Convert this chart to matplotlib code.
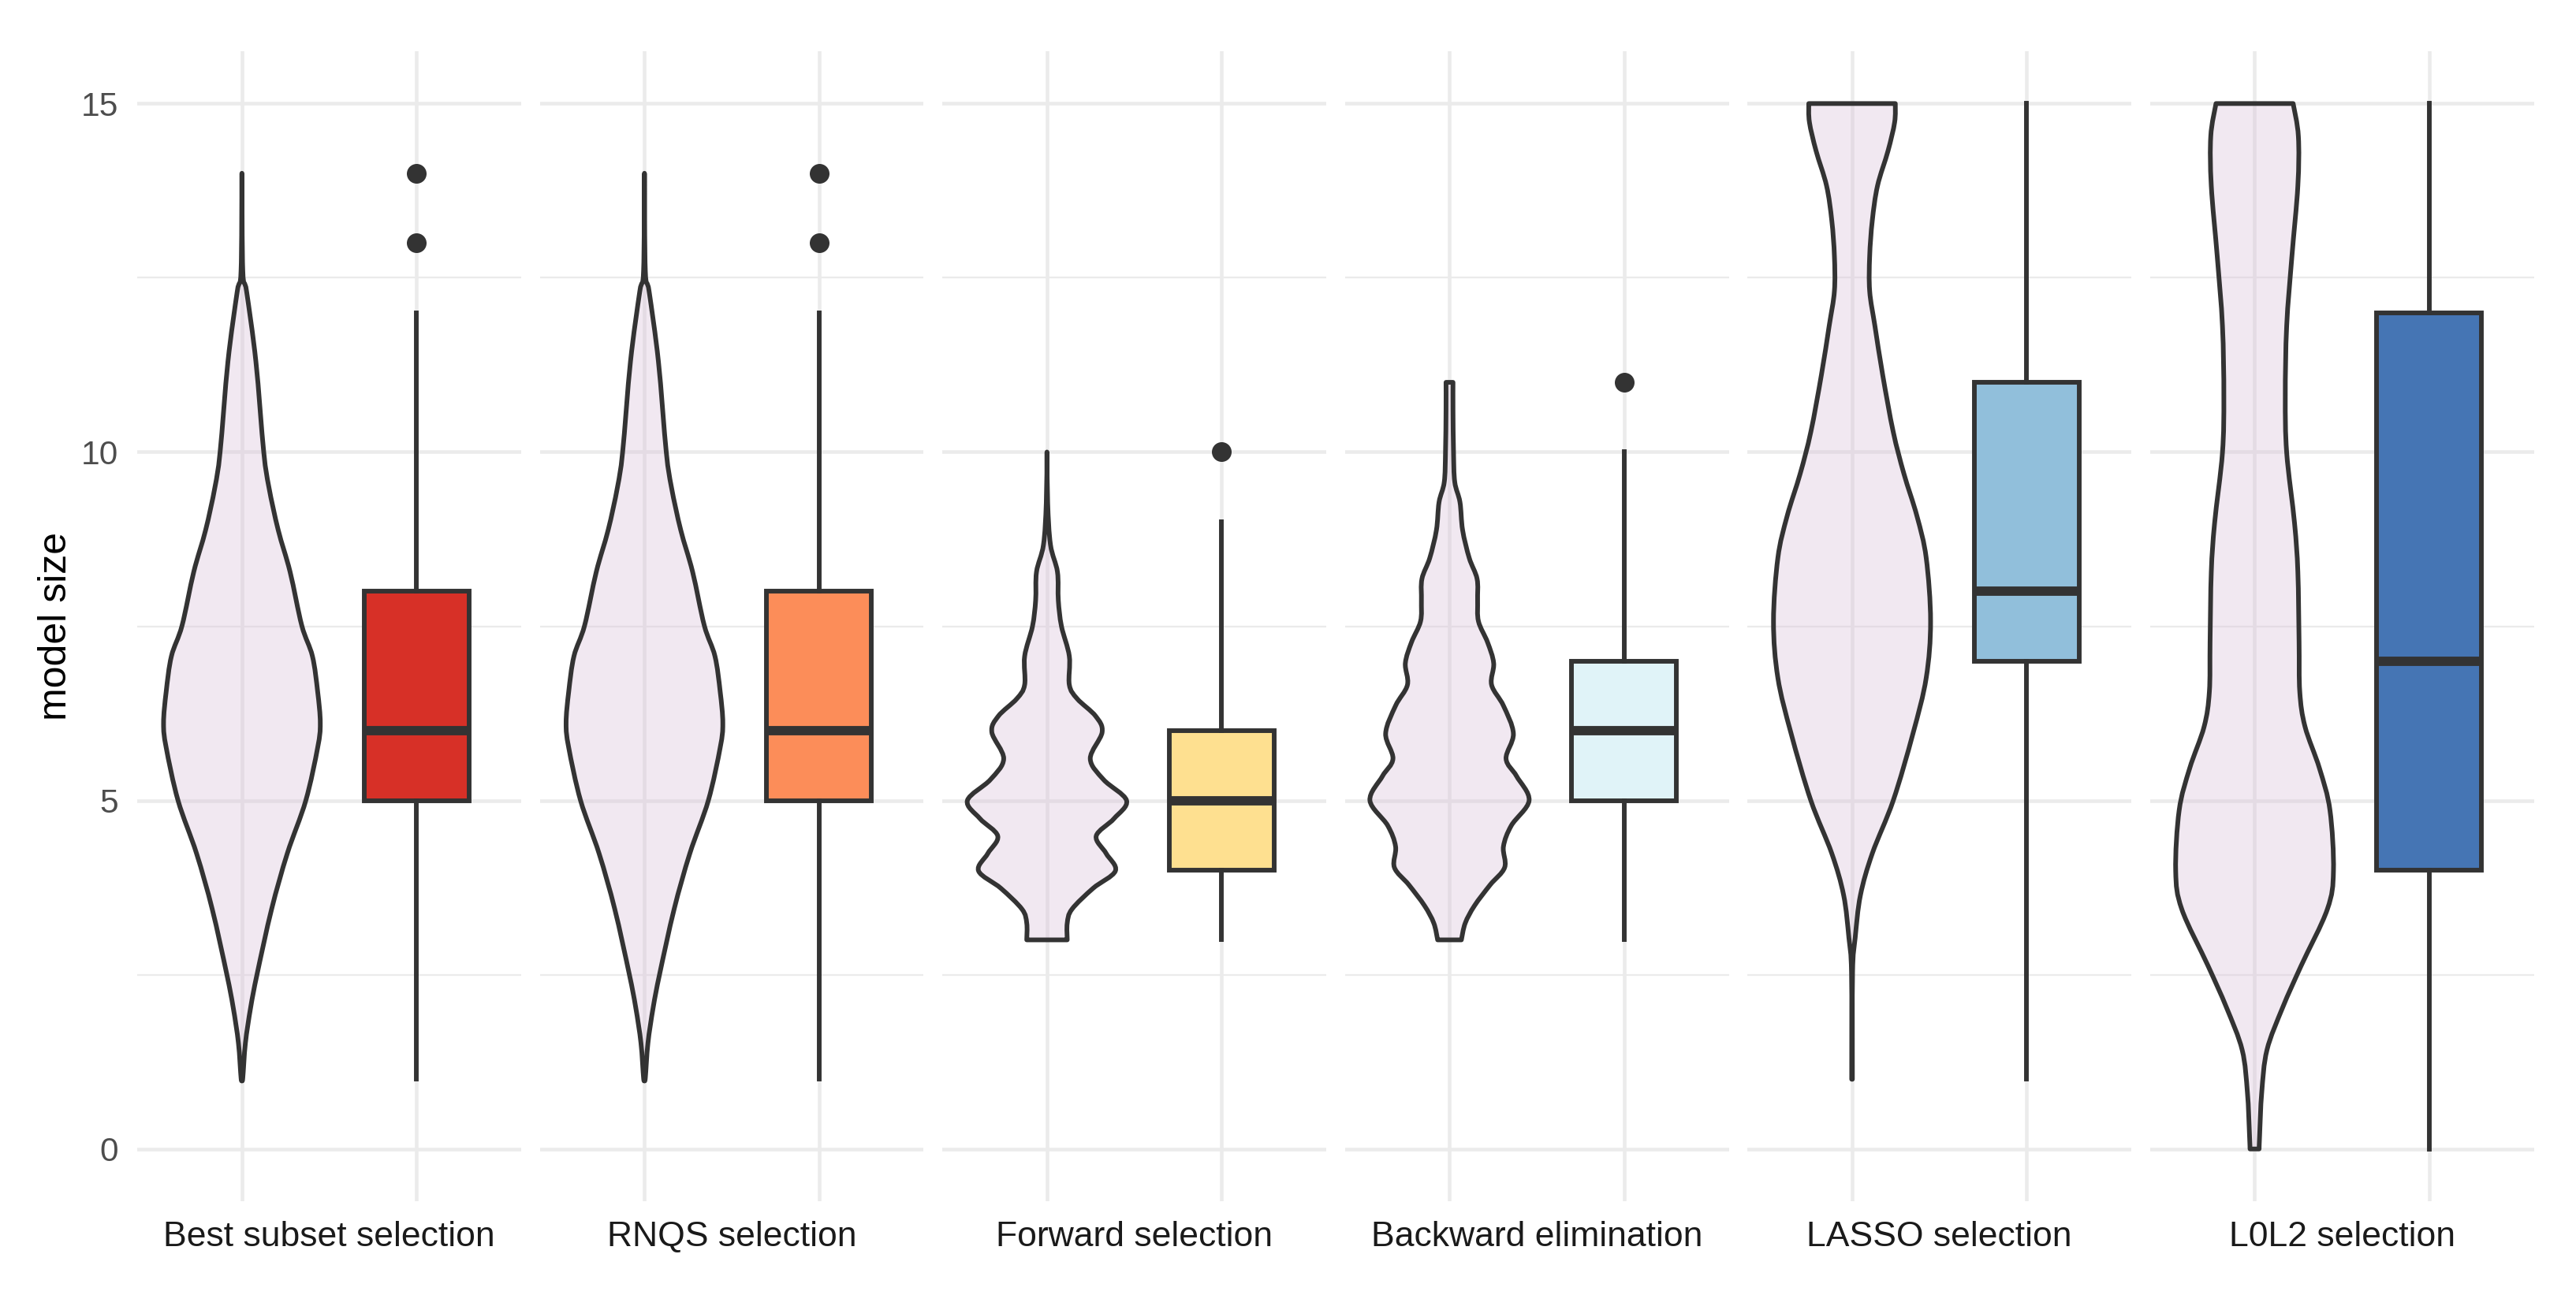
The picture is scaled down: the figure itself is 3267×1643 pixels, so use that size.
import numpy as np
import matplotlib
matplotlib.use("Agg")
import matplotlib.pyplot as plt
from matplotlib.path import Path
from matplotlib.patches import PathPatch
from matplotlib.colors import to_rgba

plt.rcParams['font.family'] = ['Liberation Sans', 'DejaVu Sans']

# panel labels and box colours
methods = ["Best subset selection", "RNQS selection", "Forward selection",
           "Backward elimination", "LASSO selection", "L0L2 selection"]
box_colors = ["#D73027", "#FC8D59", "#FEE090", "#E0F3F8", "#91BFDB", "#4575B4"]

# boxplot statistics per method
whis_lo = [1, 1, 3, 3, 1, 0]
q1 = [5, 5, 4, 5, 7, 4]
medians = [6, 6, 5, 6, 8, 7]
q3 = [8, 8, 6, 7, 11, 12]
whis_hi = [12, 12, 9, 10, 15, 15]
outliers = [[13, 14], [13, 14], [10], [11], [], []]

# violin outlines: model size (y) and half-width in x units
best_y = [1.0, 1.02, 1.52, 2.03, 2.51, 3.44, 4.24, 5.0, 5.76, 6.11, 6.56, 7.07,
          7.51, 8.28, 8.88, 9.49, 10.0, 11.3, 12.3, 12.6, 14.0]
best_w = [0.0, 0.005, 0.02, 0.05, 0.087, 0.17, 0.26, 0.366, 0.434, 0.449, 0.434, 0.404,
          0.343, 0.276, 0.208, 0.155, 0.125, 0.08, 0.027, 0.005, 0.0]

rnqs_y = [1.0, 1.02, 1.52, 2.03, 2.51, 3.44, 4.24, 5.0, 5.76, 6.11, 6.56, 7.07,
          7.51, 8.28, 8.88, 9.49, 10.0, 11.3, 12.3, 12.6, 14.0]
rnqs_w = [0.0, 0.005, 0.02, 0.05, 0.087, 0.17, 0.26, 0.366, 0.434, 0.449, 0.434, 0.404,
          0.343, 0.276, 0.208, 0.155, 0.125, 0.08, 0.027, 0.005, 0.0]

fwd_y = [3.0, 3.24, 3.44, 3.74, 3.99, 4.24, 4.49, 4.74, 5.0, 5.3, 5.6, 5.98, 6.21,
         6.46, 6.66, 7.07, 7.5, 7.87, 8.28, 8.67, 9.27, 10.0]
fwd_w = [0.116, 0.116, 0.143, 0.264, 0.392, 0.339, 0.282, 0.384, 0.456, 0.324, 0.248,
         0.316, 0.279, 0.173, 0.128, 0.128, 0.083, 0.065, 0.06, 0.02, 0.004, 0.0]

bwd_y = [3.0, 3.24, 3.49, 3.79, 4.04, 4.34, 4.64, 5.0, 5.35, 5.6, 5.96, 6.36, 6.66,
         6.97, 7.27, 7.57, 7.87, 8.18, 8.48, 8.88, 9.28, 9.57, 10.0, 10.6, 11.0]
bwd_w = [0.068, 0.09, 0.143, 0.233, 0.316, 0.309, 0.354, 0.456, 0.384, 0.324, 0.366,
         0.309, 0.241, 0.253, 0.218, 0.166, 0.161, 0.158, 0.113, 0.075, 0.06, 0.03,
         0.023, 0.02, 0.02]

lasso_y = [1.0, 2.53, 3.03, 3.64, 4.24, 5.0, 5.96, 6.76, 7.57, 8.48, 9.08, 9.69,
           10.29, 11.1, 11.81, 12.31, 12.81, 13.32, 13.82, 14.32, 14.73, 15.0]
lasso_w = [0.002, 0.003, 0.018, 0.048, 0.116, 0.236, 0.349, 0.425, 0.45, 0.425, 0.372,
           0.297, 0.236, 0.176, 0.131, 0.101, 0.101, 0.116, 0.146, 0.206, 0.244, 0.248]

l0l2_y = [0.0, 0.2, 0.81, 1.42, 2.03, 2.63, 3.44, 3.99, 4.86, 5.46, 6.06, 6.56, 7.27,
          8.28, 8.98, 9.99, 10.8, 11.81, 12.81, 13.82, 14.53, 15.0]
l0l2_w = [0.026, 0.029, 0.041, 0.071, 0.161, 0.267, 0.417, 0.452, 0.432, 0.372, 0.289,
          0.259, 0.255, 0.248, 0.229, 0.184, 0.176, 0.184, 0.214, 0.248, 0.251, 0.221]

violins = [(best_y, best_w), (rnqs_y, rnqs_w), (fwd_y, fwd_w),
           (bwd_y, bwd_w), (lasso_y, lasso_w), (l0l2_y, l0l2_w)]

line_col = "#333333"
grid_col = "#EBEBEB"


def smooth_side(pts):
    # Catmull-Rom through the read points, as cubic bezier pieces
    verts = []
    n = len(pts)
    for k in range(n - 1):
        p0 = pts[max(k - 1, 0)]
        p1 = pts[k]
        p2 = pts[k + 1]
        p3 = pts[min(k + 2, n - 1)]
        c1 = p1 + (p2 - p0) / 6.0
        c2 = p2 - (p3 - p1) / 6.0
        verts += [c1, c2, p2]
    return verts


def violin_path(pos, vy, vw):
    vy = np.array(vy, dtype=float)
    vw = np.array(vw, dtype=float)
    right = np.column_stack([pos + vw, vy])
    left = np.column_stack([pos - vw, vy])[::-1]
    verts = [right[0]]
    codes = [Path.MOVETO]
    seg = smooth_side(right)
    verts += seg
    codes += [Path.CURVE4] * len(seg)
    verts.append(left[0])
    codes.append(Path.LINETO)
    seg = smooth_side(left)
    verts += seg
    codes += [Path.CURVE4] * len(seg)
    verts.append(right[0])
    codes.append(Path.CLOSEPOLY)
    return Path(np.array(verts), codes)


fig, axes = plt.subplots(1, 6, figsize=(10.89, 5.4767), dpi=300, sharey=True)
fig.subplots_adjust(left=0.05326, right=0.98363, bottom=0.0724, top=0.9604, wspace=0.0483)

for i, ax in enumerate(axes):
    ax.set_ylim(-0.75, 15.75)
    ax.set_axisbelow(True)
    for s in ax.spines.values():
        s.set_visible(False)
    ax.set_yticks([0, 5, 10, 15])
    ax.set_yticks([2.5, 7.5, 12.5], minor=True)
    ax.grid(True, which='major', color=grid_col, linewidth=1.1)
    ax.grid(True, which='minor', axis='y', color=grid_col, linewidth=0.55)
    ax.tick_params(which='both', length=0, labelsize=10.2, labelcolor="#4D4D4D", pad=5.7)

    # violin
    vy, vw = violins[i]
    ax.add_patch(PathPatch(violin_path(1, vy, vw), facecolor=to_rgba("thistle", 0.35),
                           edgecolor=line_col, linewidth=1.42, joinstyle='round', zorder=3))

    # boxplot
    stats = [dict(med=medians[i], q1=q1[i], q3=q3[i], whislo=whis_lo[i],
                  whishi=whis_hi[i], fliers=outliers[i])]
    ax.bxp(stats, positions=[2], widths=0.6, patch_artist=True, showcaps=False,
           boxprops=dict(facecolor=box_colors[i], edgecolor=line_col, linewidth=1.42),
           medianprops=dict(color=line_col, linewidth=2.84, solid_capstyle='butt'),
           whiskerprops=dict(color=line_col, linewidth=1.42),
           flierprops=dict(marker='o', markerfacecolor=line_col, markeredgecolor=line_col,
                           markersize=5),
           zorder=3)
    ax.set_xlim(0.4, 2.6)
    ax.set_xticks([1, 2])
    ax.set_xticklabels([])

    ax.annotate(methods[i], xy=(1.5, 0), xycoords=('data', 'axes fraction'),
                xytext=(0, -6.0), textcoords='offset points', ha='center', va='top',
                fontsize=10.7, color="#1A1A1A")

fig.text(0.0217, 0.5164, "model size", rotation=90, ha='center', va='center',
         fontsize=12, color="black")

fig.savefig("out.png", dpi=300, facecolor="white")
